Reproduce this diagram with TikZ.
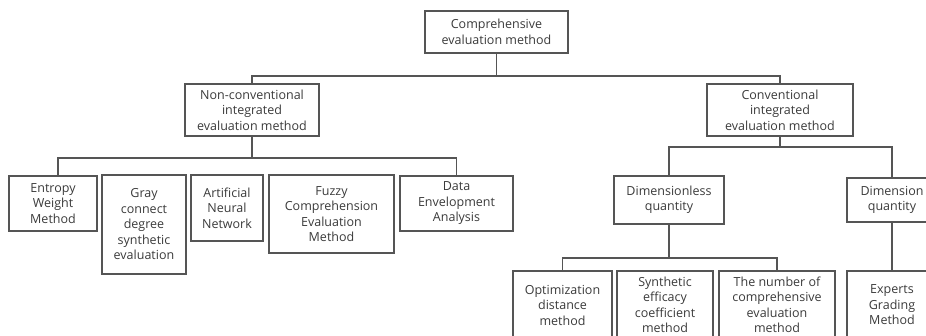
\documentclass[tikz,border=0pt]{standalone}
\usepackage{fontspec}
\setmainfont{Open Sans}
\definecolor{linegray}{HTML}{555555}
\definecolor{textgray}{HTML}{3A3A3A}
\begin{document}
\begin{tikzpicture}[x=1pt,y=1pt,
	box/.style={draw=linegray,line width=1.2pt,align=center,inner sep=2pt,text=textgray,
		font=\fontsize{12.5}{15.5}\selectfont,minimum height=#1},
	box/.default=52,
	link/.style={draw=linegray,line width=1.2pt}]
	\useasboundingbox (0,0) rectangle (926,336);
	\clip (0,0) rectangle (926,336);
	\node[box=42,minimum width=143] (root) at (496.5,304) {Comprehensive\\evaluation method};
	\node[box=52,minimum width=134] (nonconv) at (252,226) {Non-conventional\\integrated\\evaluation method};
	\node[box=52,minimum width=146] (conv) at (780,226) {Conventional\\integrated\\evaluation method};
	\node[box=55,minimum width=88] (entropy) at (53,132.5) {Entropy\\Weight\\Method};
	\node[box=99,minimum width=84] (gray) at (144,111.5) {Gray\\connect\\degree\\synthetic\\evaluation};
	\node[box=66,minimum width=72] (ann) at (227,128) {Artificial\\Neural\\Network};
	\node[box=78,minimum width=125] (fuzzy) at (331.5,122) {Fuzzy\\Comprehension\\Evaluation\\Method};
	\node[box=55,minimum width=113] (dea) at (456.5,132.5) {Data\\Envelopment\\Analysis};
	\node[box=48,minimum width=110] (dimless) at (669,136) {Dimensionless\\quantity};
	\node[box=44,minimum width=90] (dim) at (892,136) {Dimension\\quantity};
	\node[box=68,minimum width=99] (optim) at (562.5,31) {Optimization\\distance\\method};
	\node[box=68,minimum width=96] (synth) at (665,31) {Synthetic\\efficacy\\coefficient\\method};
	\node[box=68,minimum width=116] (number) at (777,31) {The number of\\comprehensive\\evaluation\\method};
	\node[box=68,minimum width=90] (experts) at (892,31) {Experts\\Grading\\Method};
	\coordinate (bar1) at (0,260);
	\coordinate (bar2) at (0,178);
	\coordinate (bar3) at (0,189);
	\coordinate (bar4) at (0,78);
	\draw[link] (root.south) -- (root.south |- bar1);
	\draw[link] (nonconv.north) |- (bar1 -| conv.north) -- (conv.north);
	\draw[link] (nonconv.south) -- (nonconv.south |- bar2);
	\draw[link] ([xshift=5]entropy.north) |- (bar2 -| dea.north) -- (dea.north);
	\draw[link] (conv.south) -- (conv.south |- bar3);
	\draw[link] (dimless.north) |- (bar3 -| dim.north) -- (dim.north);
	\draw[link] (dimless.south) -- (dimless.south |- bar4);
	\draw[link] (optim.north) |- (bar4 -| number.north) -- (number.north);
	\draw[link] (dim.south) -- (experts.north);
\end{tikzpicture}
\end{document}
